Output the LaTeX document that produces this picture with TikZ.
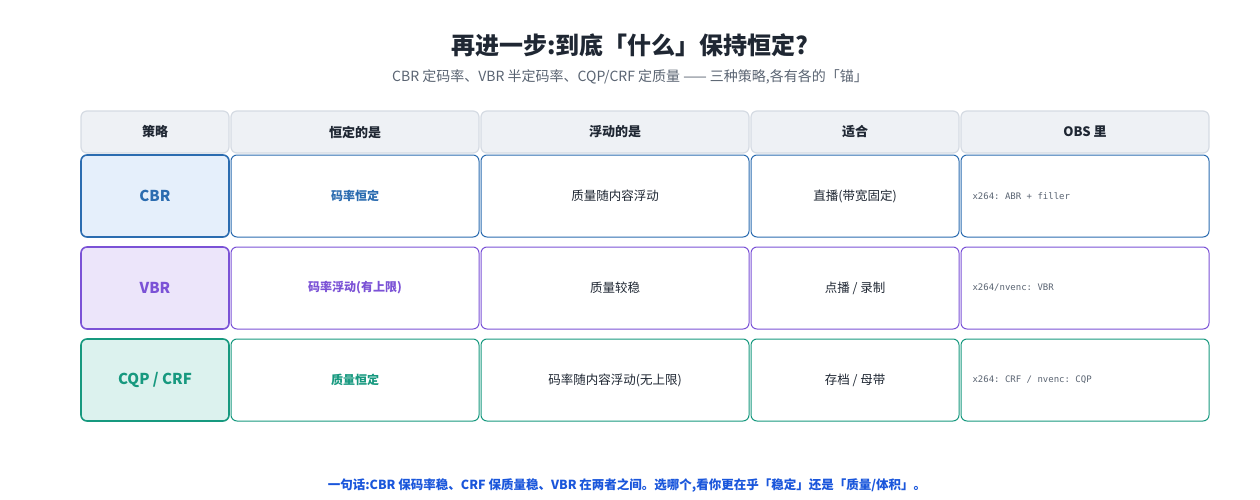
\documentclass[tikz,border=0pt]{standalone}
\usepackage{fontspec}
\setmainfont{Noto Sans CJK SC}
\newfontfamily\cjk{Noto Sans CJK SC}
\setmonofont{DejaVu Sans Mono}
\usepackage{tikz}
\definecolor{cbrc}{HTML}{2B6CB0}
\definecolor{cbrf}{HTML}{E5EFFB}
\definecolor{vbrc}{HTML}{7B52D6}
\definecolor{vbrf}{HTML}{ECE5FA}
\definecolor{cqpc}{HTML}{17997F}
\definecolor{cqpf}{HTML}{DCF2EE}
\definecolor{headf}{HTML}{EEF1F5}
\definecolor{headd}{HTML}{D5DBE3}
\definecolor{titlec}{HTML}{1F2733}
\definecolor{subc}{HTML}{5A6472}
\definecolor{footc}{HTML}{1A56DB}
\tikzset{
  cell/.style={draw, rounded corners=6pt, line width=1pt, inner sep=0pt, fill=white},
  head/.style={cell, draw=headd, fill=headf, line width=1.2pt, font=\bfseries\fontsize{13}{15}\selectfont, text=titlec},
  body/.style={font=\fontsize{12.5}{14}\selectfont, text=titlec},
  mono/.style={font=\ttfamily\fontsize{9}{11}\selectfont, text=subc}
}
\begin{document}
\begin{tikzpicture}[x=1pt,y=-1pt]
                \useasboundingbox (0,0) rectangle (1260,500);
                % Title and subtitle
                \node[font=\bfseries\fontsize{24}{28}\selectfont, text=titlec] (title) at (630,45) {再进一步:到底「什么」保持恒定?};
                \node[font=\fontsize{14}{16}\selectfont, text=subc] (sub) at (630,77) {CBR 定码率、VBR 半定码率、CQP/CRF 定质量 —— 三种策略,各有各的「锚」};
                % Header row
                \node[head, minimum width=148pt, minimum height=42pt] (h1) at (155,132) {策略};
                \node[head, minimum width=248pt, minimum height=42pt] (h2) at (355,132) {恒定的是};
                \node[head, minimum width=268pt, minimum height=42pt] (h3) at (615,132) {浮动的是};
                \node[head, minimum width=208pt, minimum height=42pt] (h4) at (855,132) {适合};
                \node[head, minimum width=248pt, minimum height=42pt] (h5) at (1085,132) {OBS 里};
                % Body rows
                \foreach \y/\c/\n/\a/\b/\s/\o in {
                    196/cbr/{CBR}/{码率恒定}/{质量随内容浮动}/{直播(带宽固定)}/{x264: ABR + filler},
                    288/vbr/{VBR}/{码率浮动(有上限)}/{质量较稳}/{点播 / 录制}/{x264/nvenc: VBR},
                    380/cqp/{CQP / CRF}/{质量恒定}/{码率随内容浮动(无上限)}/{存档 / 母带}/{x264: CRF / nvenc: CQP}} {
                    \node[cell, draw=\c c, fill=\c f, line width=1.6pt, minimum width=148pt, minimum height=82pt,
                          font=\bfseries\fontsize{15}{17}\selectfont, text=\c c] (\c-name) at (155,\y) {\n};
                    \node[cell, draw=\c c, minimum width=248pt, minimum height=82pt,
                          font=\bfseries\fontsize{12}{14}\selectfont, text=\c c] (\c-fix) at (355,\y) {\a};
                    \node[cell, draw=\c c, body, minimum width=268pt, minimum height=82pt] (\c-var) at (615,\y) {\b};
                    \node[cell, draw=\c c, body, minimum width=208pt, minimum height=82pt] (\c-use) at (855,\y) {\s};
                    \node[cell, draw=\c c, minimum width=248pt, minimum height=82pt] (\c-obs) at (1085,\y) {};
                    \node[mono, anchor=west] (\c-cmd) at (969,\y) {\o};
                }
                % Footer
                \node[font=\bfseries\fontsize{12.5}{14}\selectfont, text=footc] (foot) at (627,485) {一句话:CBR 保码率稳、CRF 保质量稳、VBR 在两者之间。选哪个,看你更在乎「稳定」还是「质量/体积」。};
            \end{tikzpicture}
\end{document}
